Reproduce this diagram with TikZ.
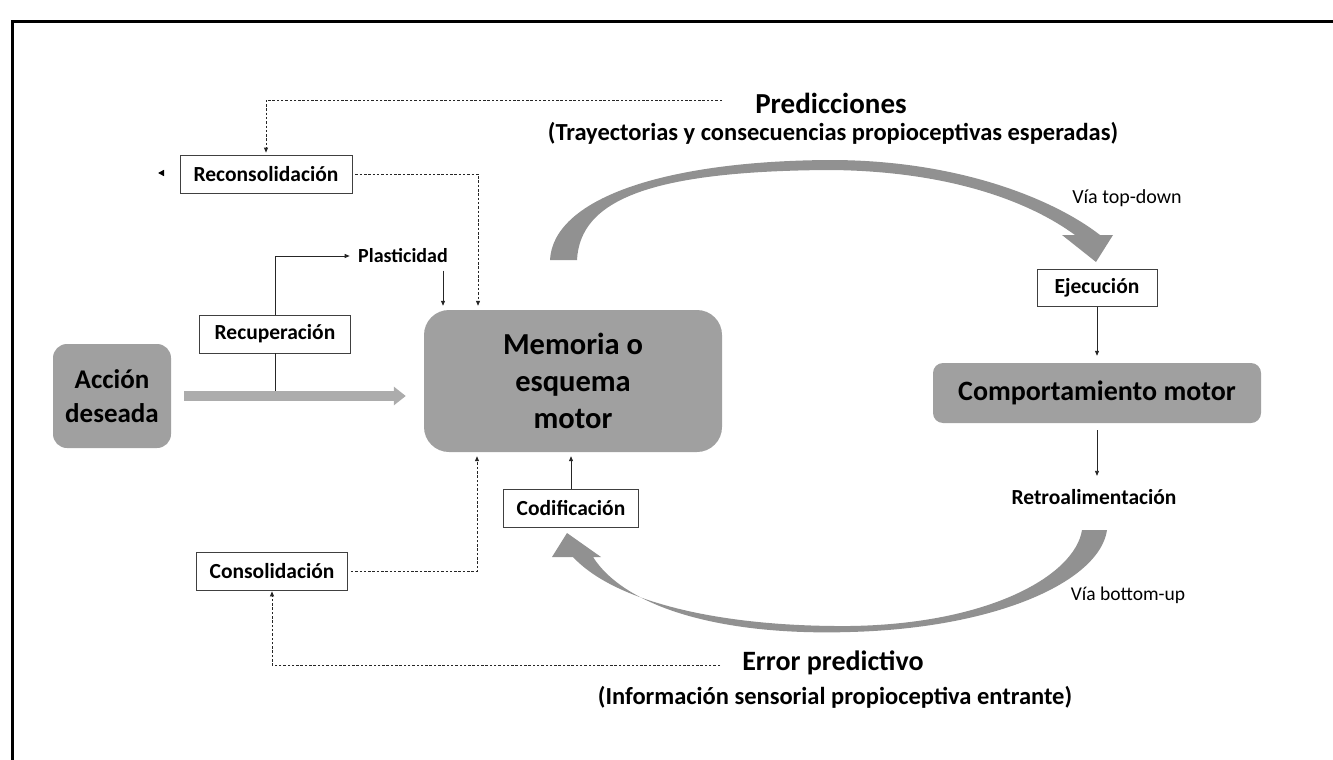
\documentclass[tikz,border=0pt]{standalone}
\usepackage{fontspec}
\setmainfont{Carlito}
\usetikzlibrary{positioning,arrows.meta}
\definecolor{boxgray}{RGB}{160,160,160}
\definecolor{arcgray}{RGB}{145,145,145}
\definecolor{bargray}{RGB}{172,172,172}
\newcommand{\fsize}[2]{\fontsize{#1pt}{#2pt}\selectfont}

\begin{document}
\begin{tikzpicture}[x=1pt,y=-1pt,
    graybox/.style={fill=boxgray, align=center, inner sep=0pt},
    smallbox/.style={draw=black!75, line width=0.8pt, fill=white, minimum height=38pt, inner sep=0pt, font=\bfseries\fsize{21.5}{24}},
    link/.style={line width=0.8pt, draw=black!85, -{Triangle[length=5pt,width=4pt]}, shorten >=4pt},
    dotlink/.style={link, dash pattern=on 2.5pt off 1.8pt}]
    \useasboundingbox (0,0) rectangle (1333,760);
    % frame
    \draw[line width=3pt] (12,760) -- (12,22) -- (1333,22);

    % gray blocks
    \node[graybox, rounded corners=14pt, minimum width=118pt, minimum height=104pt, font=\bfseries\fsize{27}{34}] (accion) at (112,396) {Acción\\deseada};
    \node[graybox, rounded corners=25pt, minimum width=298pt, minimum height=142pt, font=\bfseries\fsize{30.5}{37}] (memoria) at (573,381) {Memoria o\\esquema\\motor};
    \node[graybox, rounded corners=10pt, minimum width=328pt, minimum height=60pt, font=\bfseries\fsize{28}{32}] (comport) at (1097,393) {Comportamiento motor};

    % white boxes
    \node[smallbox, minimum width=172pt] (recons) at (266,174) {Reconsolidación};
    \node[smallbox, minimum width=151pt] (recup) at (275,334) {Recuperación};
    \node[smallbox, minimum width=135pt] (codif) at (571,508) {Codificación};
    \node[smallbox, minimum width=151pt] (consol) at (272,571) {Consolidación};
    \node[smallbox, minimum width=120pt, minimum height=37pt] (ejec) at (1097,288) {Ejecución};

    % labels
    \node[font=\bfseries\fsize{29}{32}] (pred) at (831,103) {Predicciones};
    \node[font=\bfseries\fsize{24.5}{28}] (tray) at (833,133) {(Trayectorias y consecuencias propioceptivas esperadas)};
    \node[font=\bfseries\fsize{20}{24}] (plast) at (403,256) {Plasticidad};
    \node[font=\bfseries\fsize{21.5}{24}] (retro) at (1094,497) {Retroalimentación};
    \node[font=\bfseries\fsize{28}{32}] (error) at (833,663) {Error predictivo};
    \node[font=\bfseries\fsize{24.5}{28}] (info) at (835,697) {(Información sensorial propioceptiva entrante)};
    \node[font=\fsize{20}{24}] (topdown) at (1127,198) {Vía top-down};
    \node[font=\fsize{19.5}{24}] (bottomup) at (1128,595) {Vía bottom-up};

    \coordinate (predend) at (722,100);
    \coordinate (errend) at (720,665);
    \coordinate (stray) at (158,173);

    % connectors
    \draw[dotlink, shorten >=2pt] (predend) -| (recons.north);
    \draw[dotlink, shorten <=3pt] (recons.east) -| ([xshift=-95pt]memoria.north);
    \draw[link, shorten >=5pt] (recup.north) |- (plast.west);
    \draw[link, shorten <=4pt] ([xshift=40pt]plast.south) -- ([xshift=-130pt]memoria.north);
    \draw[line width=0.8pt, draw=black!85] (recup.south) -- ([yshift=5pt]recup.south |- accion.east);
    \draw[bargray, line width=10pt, -{Triangle[length=12pt,width=18pt]}, shorten <=13pt, shorten >=18pt] (accion.east) -- (accion.east -| memoria.west);
    \draw[dotlink, shorten <=3pt] (consol.east) -| ([xshift=-96pt]memoria.south);
    \draw[link] (codif.north) -- (codif.north |- memoria.south);
    \draw[dotlink, shorten >=1pt] (errend) -| (consol.south);
    \draw[link, shorten >=7pt] (ejec.south) -- (comport.north);
    \draw[link, shorten <=7pt, shorten >=10pt] (comport.south) -- (comport.south |- retro.north);
    \draw[line width=1.6pt, -{Triangle[length=6pt,width=6pt]}] ([xshift=4pt]stray) -- (stray);

    % top-down arc
    \fill[arcgray] (550,260) .. controls (553,200) and (660,161) .. (830,160)
        .. controls (960,160) and (1055,200) .. (1100,235) -- (1113,235) -- (1096,262) -- (1062,235) -- (1075,235)
        .. controls (1030,202) and (950,171) .. (830,170)
        .. controls (650,171) and (580,200) .. (577,260) -- cycle;
    % bottom-up arc
    \fill[arcgray] (1107,530) .. controls (1100,580) and (1000,628) .. (850,632)
        .. controls (720,636) and (625,607) .. (593,557) -- (601,557) -- (567,533) -- (552,557) -- (573,557)
        .. controls (615,602) and (720,627) .. (850,626)
        .. controls (990,624) and (1075,575) .. (1082,530) -- cycle;
\end{tikzpicture}
\end{document}
